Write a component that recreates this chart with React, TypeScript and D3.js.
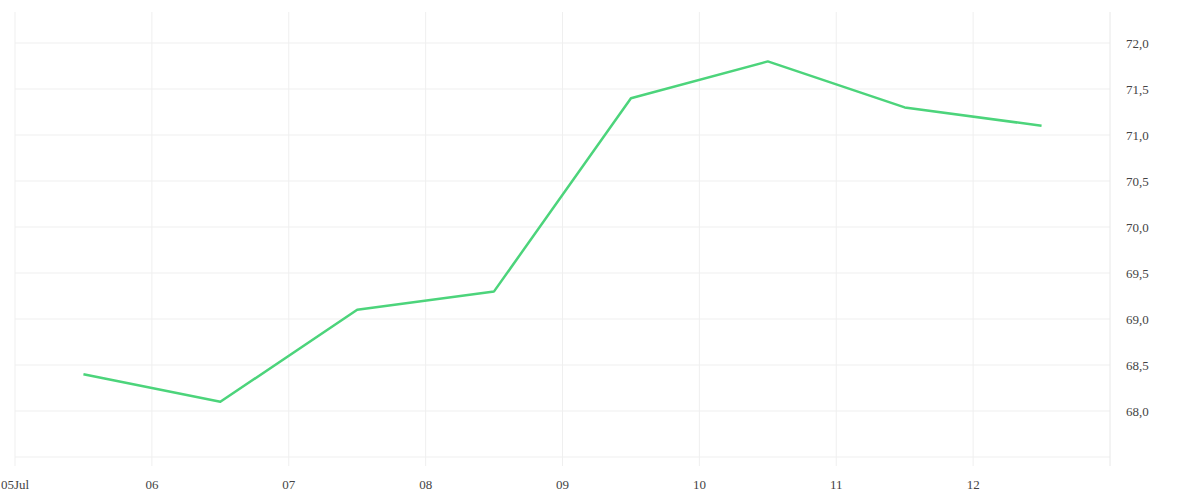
import React from "react";
import * as d3 from "d3";

const dates = ["2024-07-05T12:00", "2024-07-06T12:00", "2024-07-07T12:00", "2024-07-08T12:00", "2024-07-09T12:00", "2024-07-10T12:00", "2024-07-11T12:00", "2024-07-12T12:00"];
const values = [68.4, 68.1, 69.1, 69.3, 71.4, 71.8, 71.3, 71.1];
const yTicks = [68.0, 68.5, 69.0, 69.5, 70.0, 70.5, 71.0, 71.5, 72.0];
const yGrid = [67.5, 68.0, 68.5, 69.0, 69.5, 70.0, 70.5, 71.0, 71.5, 72.0];
const xStart = "2024-07-05T00:00";
const xEnd = "2024-07-13T00:00";

const W = 1200, H = 500;
const left = 15, right = 1110, top = 12, bottom = 466;

export default function App() {
  const parse = (s: string) => new Date(s);
  const x = d3.scaleTime().domain([parse(xStart), parse(xEnd)]).range([left, right]);
  const y = d3.scaleLinear().domain([67.5, 72.0]).range([457, 43]);
  const xTicks = d3.timeDay.range(parse(xStart), parse(xEnd));
  const line = d3.line<number>().x((_, i) => x(parse(dates[i]))).y((d) => y(d));
  const fmtY = (v: number) => v.toFixed(1).replace(".", ",");
  const fmtX = (d: Date) => (d.getDate() === 5 ? "05Jul" : d3.timeFormat("%d")(d));
  const font = "'Liberation Serif', serif";
  return (
    <svg width={W} height={H} style={{ position: "absolute", left: 0, top: 0 }}>
      <rect width={W} height={H} fill="#fff" />
      {yGrid.map((v) => (
        <line key={v} x1={left} x2={right} y1={y(v)} y2={y(v)} stroke="#efefef" strokeWidth={1} />
      ))}
      {xTicks.map((d) => (
        <line key={+d} x1={x(d)} x2={x(d)} y1={top} y2={bottom} stroke="#efefef" strokeWidth={1} />
      ))}
      <line x1={right} x2={right} y1={top} y2={bottom} stroke="#e8e8e8" strokeWidth={1} />
      <path d={line(values) || ""} fill="none" stroke="#4cd47b" strokeWidth={2.5} strokeLinejoin="round" />
      {yTicks.map((v) => (
        <text key={v} x={right + 16} y={y(v)} dy="0.35em" fontSize={13} fill="#444" fontFamily={font}>
          {fmtY(v)}
        </text>
      ))}
      {xTicks.map((d) => (
        <text key={+d} x={x(d)} y={489} textAnchor="middle" fontSize={13} fill="#444" fontFamily={font}>
          {fmtX(d)}
        </text>
      ))}
    </svg>
  );
}
